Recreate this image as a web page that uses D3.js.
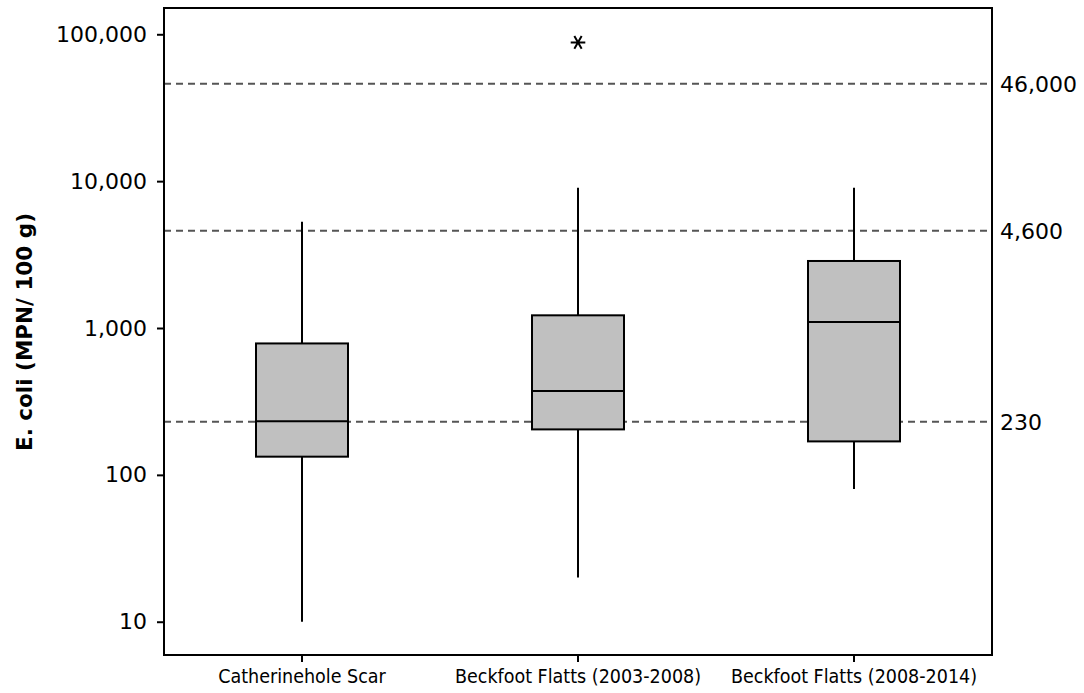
<!DOCTYPE html>
<html lang="en">
<head>
    <meta charset="utf-8">
    <script src="https://d3js.org/d3.v7.min.js"></script>
    <style>
        body { margin: 0; background: #fff; }
        text { font-family: "DejaVu Sans", Verdana, sans-serif; fill: #000; }
        .box { fill: #c0c0c0; stroke: #000; stroke-width: 2px; }
        .whisker, .median { stroke: #000; stroke-width: 2px; }
        .ref-line { stroke: #555; stroke-width: 2px; stroke-dasharray: 7,5; }
        .frame { fill: none; stroke: #000; stroke-width: 2px; }
    </style>
</head>
<body>
    <div id="chart"></div>

    <script>
        // Box plot summaries
        const categories = ['Catherinehole Scar', 'Beckfoot Flatts (2003-2008)', 'Beckfoot Flatts (2008-2014)'];
        const whiskerLow = [10, 20, 80];
        const q1 = [133, 204, 169];
        const median = [232, 372, 1100];
        const q3 = [785, 1220, 2860];
        const whiskerHigh = [5300, 9000, 9000];
        const outliers = [[], [88000], []];

        // Reference limits drawn as dashed lines
        const refValues = [230, 4600, 46000];
        const refLabels = ['230', '4,600', '46,000'];

        const yTicks = [10, 100, 1000, 10000, 100000];

        const width = 1084, height = 693;
        const margin = { top: 8, right: 92, bottom: 38, left: 164 };

        const svg = d3.select('#chart')
            .append('svg')
            .attr('width', width)
            .attr('height', height);

        const x = d3.scaleBand()
            .domain(categories)
            .range([margin.left, width - margin.right]);

        const y = d3.scaleLog()
            .domain([5.935, 151000])
            .range([height - margin.bottom, margin.top]);

        const boxW = x.bandwidth() / 3;
        const cx = i => x(categories[i]) + x.bandwidth() / 2;

        // dashed reference lines go first so boxes cover them
        svg.selectAll('.ref-line')
            .data(refValues)
            .enter().append('line')
            .attr('class', 'ref-line')
            .attr('x1', margin.left)
            .attr('x2', width - margin.right)
            .attr('y1', d => y(d))
            .attr('y2', d => y(d));

        svg.selectAll('.ref-label')
            .data(refValues)
            .enter().append('text')
            .attr('class', 'ref-label')
            .attr('x', width - margin.right + 8)
            .attr('y', d => y(d))
            .attr('dy', '0.36em')
            .style('font-size', '22px')
            .text((d, i) => refLabels[i]);

        const groups = svg.selectAll('.group')
            .data(categories)
            .enter().append('g')
            .attr('class', 'group');

        // whiskers
        groups.append('line')
            .attr('class', 'whisker')
            .attr('x1', (d, i) => cx(i)).attr('x2', (d, i) => cx(i))
            .attr('y1', (d, i) => y(whiskerLow[i]))
            .attr('y2', (d, i) => y(q1[i]));

        groups.append('line')
            .attr('class', 'whisker')
            .attr('x1', (d, i) => cx(i)).attr('x2', (d, i) => cx(i))
            .attr('y1', (d, i) => y(q3[i]))
            .attr('y2', (d, i) => y(whiskerHigh[i]));

        // boxes
        groups.append('rect')
            .attr('class', 'box')
            .attr('x', (d, i) => cx(i) - boxW / 2)
            .attr('width', boxW)
            .attr('y', (d, i) => y(q3[i]))
            .attr('height', (d, i) => y(q1[i]) - y(q3[i]));

        groups.append('line')
            .attr('class', 'median')
            .attr('x1', (d, i) => cx(i) - boxW / 2)
            .attr('x2', (d, i) => cx(i) + boxW / 2)
            .attr('y1', (d, i) => y(median[i]))
            .attr('y2', (d, i) => y(median[i]));

        // outliers as asterisks
        const star = d3.symbol().type(d3.symbolAsterisk).size(150);
        outliers.forEach((vals, i) => {
            svg.selectAll(null)
                .data(vals)
                .enter().append('path')
                .attr('d', star)
                .attr('transform', d => `translate(${cx(i)},${y(d)}) rotate(90)`)
                .attr('fill', 'none')
                .attr('stroke', '#000')
                .attr('stroke-width', 2);
        });

        // axes
        const yAxis = d3.axisLeft(y)
            .tickValues(yTicks)
            .tickFormat(d3.format(','))
            .tickSize(7)
            .tickPadding(10);

        const gy = svg.append('g')
            .attr('transform', `translate(${margin.left},0)`)
            .call(yAxis);
        gy.select('.domain').remove();
        gy.selectAll('.tick line').attr('stroke', '#000').attr('stroke-width', 2);
        gy.selectAll('.tick text')
            .style('font-size', '22px')
            .style('font-family', '"DejaVu Sans", Verdana, sans-serif');

        const xAxis = d3.axisBottom(x)
            .tickSize(7)
            .tickPadding(7);

        const gx = svg.append('g')
            .attr('transform', `translate(0,${height - margin.bottom})`)
            .call(xAxis);
        gx.select('.domain').remove();
        gx.selectAll('.tick line').attr('stroke', '#000').attr('stroke-width', 2);
        gx.selectAll('.tick text')
            .style('font-size', '19.5px')
            .style('font-family', '"DejaVu Sans Condensed", "DejaVu Sans", sans-serif');

        // plot frame
        svg.append('rect')
            .attr('class', 'frame')
            .attr('x', margin.left)
            .attr('y', margin.top)
            .attr('width', width - margin.left - margin.right)
            .attr('height', height - margin.top - margin.bottom);

        // y axis title
        svg.append('text')
            .attr('transform', 'translate(32,332) rotate(-90)')
            .attr('text-anchor', 'middle')
            .style('font-size', '21.5px')
            .style('font-weight', 'bold')
            .text('E. coli (MPN/ 100 g)');
    </script>
</body>
</html>
